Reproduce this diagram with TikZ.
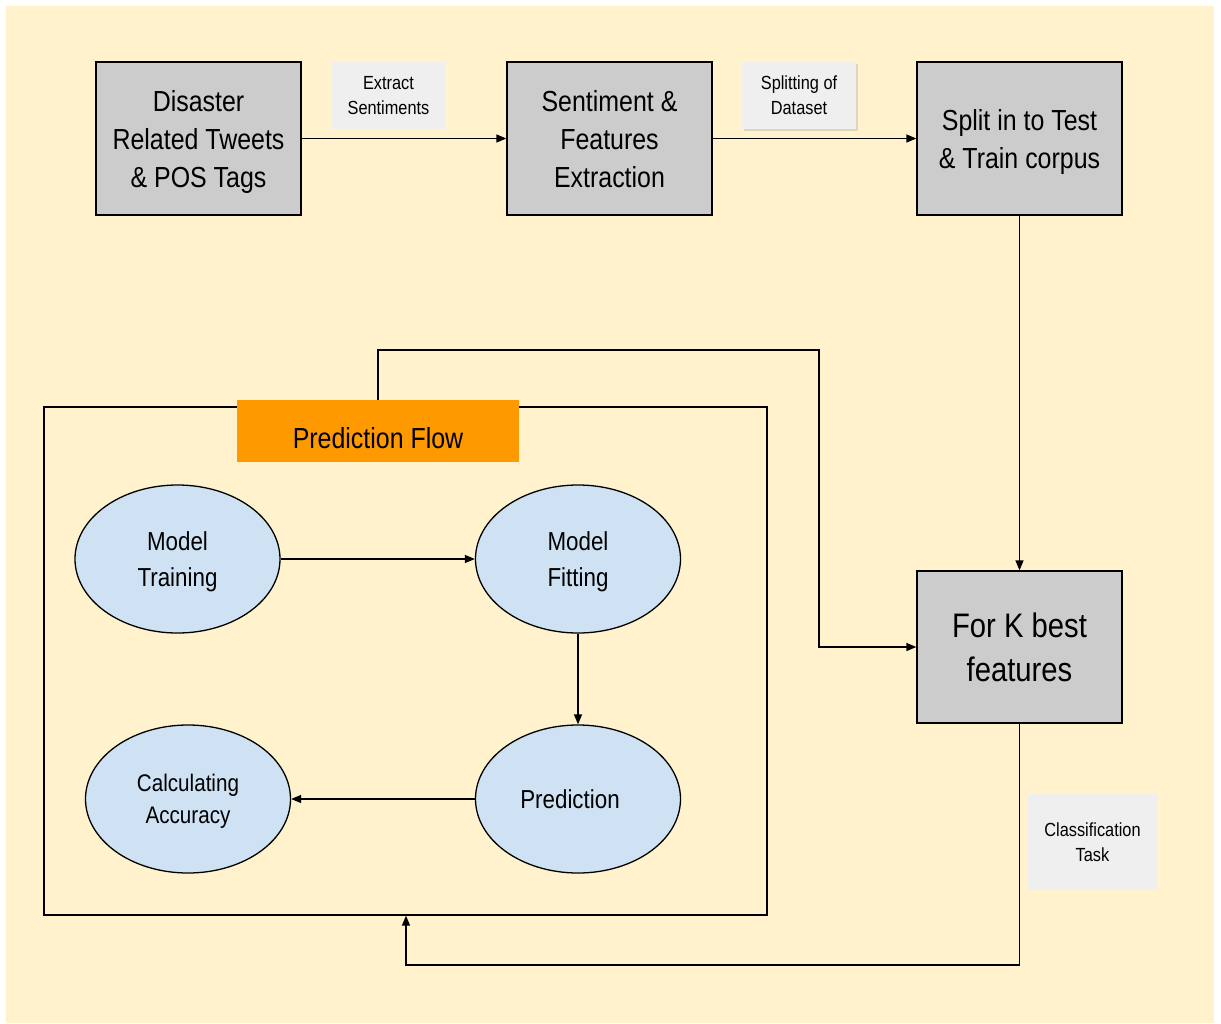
\documentclass[tikz,border=0pt]{standalone}
\usepackage{fontspec}
\setmainfont[FakeStretch=0.86]{Liberation Sans}
\usepackage{tikz}
\usetikzlibrary{arrows.meta,shapes.geometric,shadows}
\definecolor{cream}{HTML}{FFF2CC}
\definecolor{boxgray}{HTML}{CCCCCC}
\definecolor{lblgray}{HTML}{EFEFEF}
\definecolor{flowor}{HTML}{FF9900}
\definecolor{ellblue}{HTML}{CFE2F3}
\newcommand{\arw}{-{Triangle[length=10pt,width=8pt]}}
\tikzset{
  stagebox/.style={draw=black,fill=boxgray,line width=1.3pt,minimum width=205pt,
    minimum height=153pt,inner sep=0pt,text depth=0pt,align=center,font=\fontsize{29}{38}\selectfont},
  edgelbl/.style={fill=lblgray,inner sep=0pt,align=center,font=\fontsize{19}{25}\selectfont},
  taskell/.style={ellipse,draw=black,fill=ellblue,line width=1.3pt,minimum width=205pt,
    minimum height=148pt,inner sep=0pt,text depth=0pt,align=center,font=\fontsize{26}{36}\selectfont},
  conn/.style={line width=1.3pt,\arw}
}
\begin{document}
\begin{tikzpicture}[x=1pt,y=-1pt]
\useasboundingbox (0,0) rectangle (1221,1023);
\fill[cream] (6,6) rectangle (1214,1023);
%top row
\node[stagebox] (tweets) at (198.5,138.5) {Disaster\\Related Tweets\\\& POS Tags};
\node[stagebox] (sentiment) at (609.5,138.5) {Sentiment \&\\Features\\Extraction};
\node[stagebox] (split) at (1019.5,138.5) {Split in to Test\\\& Train corpus};
\node[stagebox,minimum height=152pt,font=\fontsize{34}{44}\selectfont] (kbest) at (1019.5,647) {For K best\\features};
\node[edgelbl,minimum width=113pt,minimum height=67pt] (extractlbl) at (388.5,95.5) {Extract\\Sentiments};
\node[edgelbl,minimum width=114pt,minimum height=67pt,drop shadow={shadow xshift=1.5pt,shadow yshift=-2pt,opacity=0.25}] (splitlbl) at (799,95.5) {Splitting of\\Dataset};
\node[edgelbl,minimum width=129pt,minimum height=96pt] (classlbl) at (1092.5,842) {Classification\\Task};
%prediction flow
\node[draw=black,line width=1.3pt,minimum width=723pt,minimum height=508pt,inner sep=0pt] (frame) at (405.5,661) {};
\node[fill=flowor,minimum width=282pt,minimum height=62pt,inner sep=0pt,text height=34pt,text depth=0pt,font=\fontsize{29}{38}\selectfont] (flow) at (378,431) {Prediction Flow};
\node[taskell] (training) at (177.5,559) {Model\\Training};
\node[taskell] (fitting) at (578,559) {Model\\Fitting};
\node[taskell] (prediction) at (578,799) {Prediction\hspace*{16pt}};
\node[taskell,font=\fontsize{24}{32}\selectfont] (accuracy) at (188,799) {Calculating\\Accuracy};
\coordinate (turn) at (819,350);
\coordinate (bend) at (406,965);
%connectors
\draw[conn] (tweets.east) -- (sentiment.west);
\draw[conn] (sentiment.east) -- (split.west);
\draw[conn] (split.south) -- (kbest.north);
\draw[conn] (flow.north) |- (turn) |- (kbest.west);
\draw[conn] (kbest.south) |- (bend) -- (bend |- frame.south);
\draw[conn] (training.east) -- (fitting.west);
\draw[conn] (fitting.south) -- (prediction.north);
\draw[conn] (prediction.west) -- (accuracy.east);
\end{tikzpicture}
\end{document}
